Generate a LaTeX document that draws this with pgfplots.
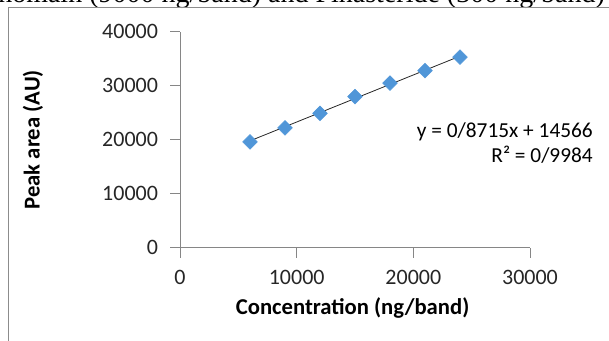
\documentclass[border=0pt]{standalone}
\usepackage{pgfplots}
\pgfplotsset{compat=1.18}
\usepackage{fontspec}
\setmainfont{Carlito}
\newfontfamily\captionserif{Liberation Serif}
\definecolor{axisgray}{HTML}{868686}
\definecolor{framegray}{HTML}{8C8C8C}
\definecolor{seriesblue}{HTML}{5096D8}

\begin{document}
\begin{tikzpicture}
\useasboundingbox (0,0) rectangle (456.75pt,255pt);
% caption line of the surrounding text, cut by the page edge
\begin{scope}
\clip (0,0) rectangle (456.75pt,255pt);
\node[anchor=base west, inner sep=0pt, font=\captionserif\fontsize{21}{25}\selectfont]
  at (-1.5pt,253pt) {nomain (9000 ng/band) and Finasteride (300 ng/band)};
\end{scope}
% chart area frame
\draw[framegray, line width=0.75pt] (6.4pt,-5pt) -- (6.4pt,249.4pt) -- (470pt,249.4pt);

\begin{axis}[
  at={(135pt,69.2pt)}, anchor=south west,
  scale only axis, width=262.5pt, height=162pt,
  xmin=0, xmax=30000, ymin=0, ymax=40000,
  xtick={0,10000,20000,30000},
  ytick={0,10000,20000,30000,40000},
  axis lines=left,
  axis line style={axisgray, line width=0.75pt, -},
  every tick/.style={axisgray, line width=0.75pt},
  tick align=outside, major tick length=7.5pt,
  scaled ticks=false,
  /pgf/number format/1000 sep={},
  /pgf/number format/assume math mode=true,
  tick label style={font=\fontsize{16.5}{19}\selectfont, text=black!85},
  xticklabel style={yshift=-5.5pt},
  yticklabel style={xshift=-5.5pt},
  label style={font=\bfseries\fontsize{17}{20}\selectfont},
  xlabel={Concentration (ng/band)},
  ylabel={Peak area (AU)},
  xlabel style={at={(axis description cs:0.493,-0.279)}, anchor=center},
  ylabel style={at={(axis description cs:-0.42,0.5)}, anchor=center, rotate=0},
  clip=false,
]
% calibration standards
\addplot[only marks, mark=square*, mark size=3.9pt,
  mark options={rotate=45, fill=seriesblue, draw=seriesblue}]
  coordinates {
    (6000,19600) (9000,22200) (12000,24900) (15000,28000)
    (18000,30500) (21000,32800) (24000,35300)
  };
% least-squares line y = 0.8715x + 14566
\addplot[black!85, line width=0.6pt] coordinates {(6000,19795) (24000,35482)};
\node[anchor=east, align=right, inner sep=0pt, font=\fontsize{16}{19}\selectfont]
  at (axis cs:35400,19400) {y = 0/8715x + 14566\\R² = 0/9984};
\end{axis}
\end{tikzpicture}
\end{document}
